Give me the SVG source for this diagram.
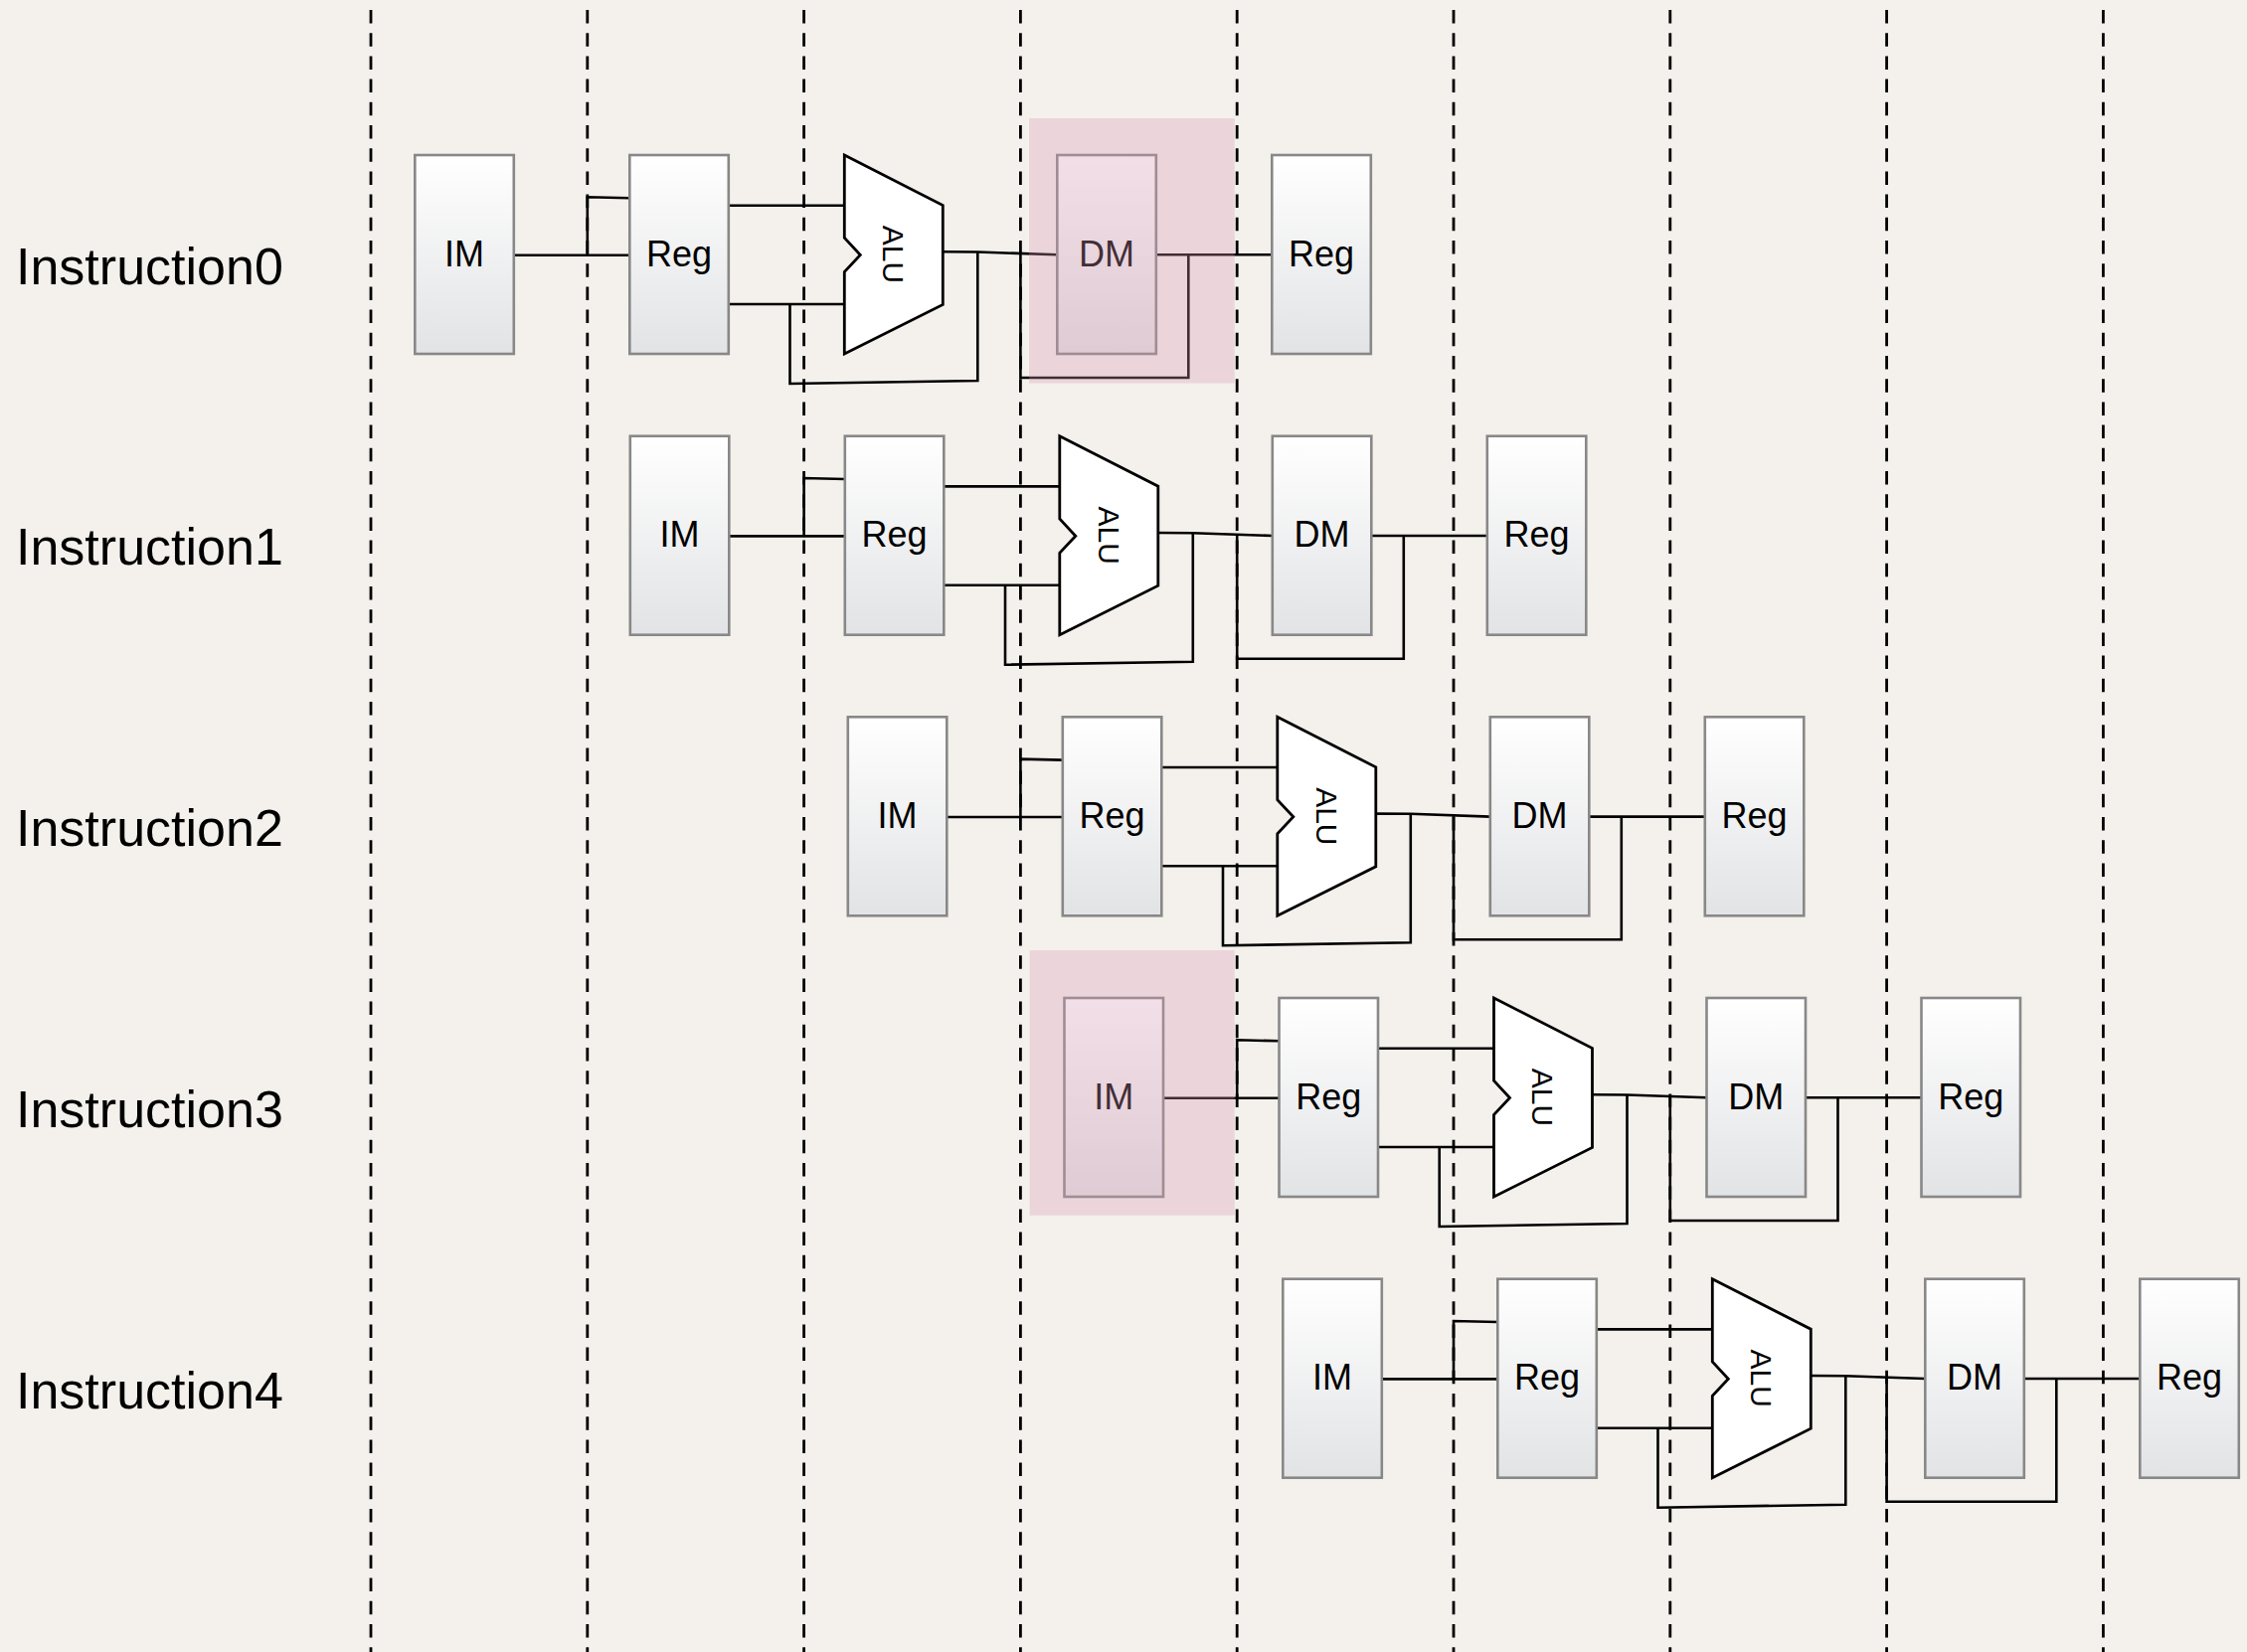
<svg xmlns="http://www.w3.org/2000/svg" width="2260" height="1662" viewBox="0 0 2260 1662">
<defs>
<linearGradient id="boxg" x1="0" y1="0" x2="0" y2="1">
<stop offset="0" stop-color="#ffffff"/>
<stop offset="1" stop-color="#e2e3e5"/>
</linearGradient>
<style>
.grid{stroke:#000;stroke-width:2.8;stroke-dasharray:13.5 9.7;fill:none}
.box{fill:url(#boxg);stroke:#888888;stroke-width:2.6}
.alu{fill:#ffffff;stroke:#000;stroke-width:2.8;stroke-linejoin:miter}
.wire{fill:none;stroke:#000;stroke-width:2.6}
.lbl{font-family:"Liberation Sans",Arial,sans-serif;font-size:36px;fill:#000;text-anchor:middle}
.alut{font-family:"Liberation Sans",Arial,sans-serif;font-size:30px;fill:#000;text-anchor:middle}
.row{font-family:"Liberation Sans",Arial,sans-serif;font-size:52px;fill:#000}
.hl{fill:#d794af;fill-opacity:0.3}
</style>
</defs>
<rect x="0" y="0" width="2260" height="1662" fill="#f4f1ec"/>
<g id="grid">
<line class="grid" x1="373" y1="10" x2="373" y2="1662"/>
<line class="grid" x1="590.8" y1="10" x2="590.8" y2="1662"/>
<line class="grid" x1="808.6" y1="10" x2="808.6" y2="1662"/>
<line class="grid" x1="1026.4" y1="10" x2="1026.4" y2="1662"/>
<line class="grid" x1="1244.2" y1="10" x2="1244.2" y2="1662"/>
<line class="grid" x1="1462" y1="10" x2="1462" y2="1662"/>
<line class="grid" x1="1679.8" y1="10" x2="1679.8" y2="1662"/>
<line class="grid" x1="1897.6" y1="10" x2="1897.6" y2="1662"/>
<line class="grid" x1="2115.4" y1="10" x2="2115.4" y2="1662"/>
</g>
<g id="row-labels">
<text class="row" x="16" y="285.7">Instruction0</text>
<text class="row" x="16" y="568.4">Instruction1</text>
<text class="row" x="16" y="851.1">Instruction2</text>
<text class="row" x="16" y="1133.8">Instruction3</text>
<text class="row" x="16" y="1416.5">Instruction4</text>
</g>
<g id="connectors">
<path class="wire" d="M516.8,256.7 H633.3"/>
<path class="wire" d="M590.8,256.7 V198.3 L633.3,199.3"/>
<path class="wire" d="M732.8,206.7 H849.3"/>
<path class="wire" d="M732.8,306 H849.3"/>
<path class="wire" d="M794.5,306 V386 L983.3,383 V253.3"/>
<path class="wire" d="M948.3,253.3 L983.3,253.5 L1063.3,256.3"/>
<path class="wire" d="M1026.4,255 V380 H1195.3 V256.3"/>
<path class="wire" d="M1162.8,256.3 H1279.3"/>

<path class="wire" d="M733.3,539.4 H849.8"/>
<path class="wire" d="M808.6,539.4 V481 L849.8,482"/>
<path class="wire" d="M949.3,489.4 H1065.8"/>
<path class="wire" d="M949.3,588.7 H1065.8"/>
<path class="wire" d="M1011,588.7 V668.7 L1199.8,665.7 V536"/>
<path class="wire" d="M1164.8,536 L1199.8,536.2 L1279.8,539"/>
<path class="wire" d="M1244.2,537.7 V662.7 H1411.8 V539"/>
<path class="wire" d="M1379.3,539 H1495.8"/>

<path class="wire" d="M952.3,822 H1068.8"/>
<path class="wire" d="M1026.4,822 V763.6 L1068.8,764.6"/>
<path class="wire" d="M1168.3,772 H1284.8"/>
<path class="wire" d="M1168.3,871.3 H1284.8"/>
<path class="wire" d="M1230,871.3 V951.3 L1418.8,948.3 V818.6"/>
<path class="wire" d="M1383.8,818.6 L1418.8,818.8 L1498.8,821.6"/>
<path class="wire" d="M1462,820.3 V945.3 H1630.8 V821.6"/>
<path class="wire" d="M1598.3,821.6 H1714.8"/>

<path class="wire" d="M1170,1104.7 H1286.5"/>
<path class="wire" d="M1244.2,1104.7 V1046.3 L1286.5,1047.3"/>
<path class="wire" d="M1386,1054.7 H1502.5"/>
<path class="wire" d="M1386,1154 H1502.5"/>
<path class="wire" d="M1447.7,1154 V1234 L1636.5,1231 V1101.3"/>
<path class="wire" d="M1601.5,1101.3 L1636.5,1101.5 L1716.5,1104.3"/>
<path class="wire" d="M1679.8,1103 V1228 H1848.5 V1104.3"/>
<path class="wire" d="M1816,1104.3 H1932.5"/>

<path class="wire" d="M1389.8,1387.4 H1506.3"/>
<path class="wire" d="M1462,1387.4 V1329 L1506.3,1330"/>
<path class="wire" d="M1605.8,1337.4 H1722.3"/>
<path class="wire" d="M1605.8,1436.7 H1722.3"/>
<path class="wire" d="M1667.5,1436.7 V1516.7 L1856.3,1513.7 V1384"/>
<path class="wire" d="M1821.3,1384 L1856.3,1384.2 L1936.3,1387"/>
<path class="wire" d="M1897.6,1385.7 V1510.7 H2068.3 V1387"/>
<path class="wire" d="M2035.8,1387 H2152.3"/>
</g>

<g id="i0-im"><rect class="box" x="417.3" y="156" width="99.5" height="200"/><text class="lbl" x="467.05" y="267.7">IM</text></g>
<g id="i0-reg"><rect class="box" x="633.3" y="156" width="99.5" height="200"/><text class="lbl" x="683.05" y="267.7">Reg</text></g>
<g id="i0-alu"><polygon class="alu" points="849.3,156 948.3,206.5 948.3,306.5 849.3,356 849.3,273.5 865.3,256.5 849.3,239.3"/><text class="alut" transform="translate(898.8,256) rotate(90)" x="0" y="10.7">ALU</text></g>
<g id="i0-dm"><rect class="box" x="1063.3" y="156" width="99.5" height="200"/><text class="lbl" x="1113.05" y="267.7">DM</text></g>
<g id="i0-reg2"><rect class="box" x="1279.3" y="156" width="99.5" height="200"/><text class="lbl" x="1329.05" y="267.7">Reg</text></g>

<g id="i1-im"><rect class="box" x="633.8" y="438.7" width="99.5" height="200"/><text class="lbl" x="683.55" y="550.4">IM</text></g>
<g id="i1-reg"><rect class="box" x="849.8" y="438.7" width="99.5" height="200"/><text class="lbl" x="899.55" y="550.4">Reg</text></g>
<g id="i1-alu"><polygon class="alu" points="1065.8,438.7 1164.8,489.2 1164.8,589.2 1065.8,638.7 1065.8,556.2 1081.8,539.2 1065.8,522"/><text class="alut" transform="translate(1115.3,538.7) rotate(90)" x="0" y="10.7">ALU</text></g>
<g id="i1-dm"><rect class="box" x="1279.8" y="438.7" width="99.5" height="200"/><text class="lbl" x="1329.55" y="550.4">DM</text></g>
<g id="i1-reg2"><rect class="box" x="1495.8" y="438.7" width="99.5" height="200"/><text class="lbl" x="1545.55" y="550.4">Reg</text></g>

<g id="i2-im"><rect class="box" x="852.8" y="721.3" width="99.5" height="200"/><text class="lbl" x="902.55" y="833">IM</text></g>
<g id="i2-reg"><rect class="box" x="1068.8" y="721.3" width="99.5" height="200"/><text class="lbl" x="1118.55" y="833">Reg</text></g>
<g id="i2-alu"><polygon class="alu" points="1284.8,721.3 1383.8,771.8 1383.8,871.8 1284.8,921.3 1284.8,838.8 1300.8,821.8 1284.8,804.6"/><text class="alut" transform="translate(1334.3,821.3) rotate(90)" x="0" y="10.7">ALU</text></g>
<g id="i2-dm"><rect class="box" x="1498.8" y="721.3" width="99.5" height="200"/><text class="lbl" x="1548.55" y="833">DM</text></g>
<g id="i2-reg2"><rect class="box" x="1714.8" y="721.3" width="99.5" height="200"/><text class="lbl" x="1764.55" y="833">Reg</text></g>

<g id="i3-im"><rect class="box" x="1070.5" y="1004" width="99.5" height="200"/><text class="lbl" x="1120.25" y="1115.7">IM</text></g>
<g id="i3-reg"><rect class="box" x="1286.5" y="1004" width="99.5" height="200"/><text class="lbl" x="1336.25" y="1115.7">Reg</text></g>
<g id="i3-alu"><polygon class="alu" points="1502.5,1004 1601.5,1054.5 1601.5,1154.5 1502.5,1204 1502.5,1121.5 1518.5,1104.5 1502.5,1087.3"/><text class="alut" transform="translate(1552,1104) rotate(90)" x="0" y="10.7">ALU</text></g>
<g id="i3-dm"><rect class="box" x="1716.5" y="1004" width="99.5" height="200"/><text class="lbl" x="1766.25" y="1115.7">DM</text></g>
<g id="i3-reg2"><rect class="box" x="1932.5" y="1004" width="99.5" height="200"/><text class="lbl" x="1982.25" y="1115.7">Reg</text></g>

<g id="i4-im"><rect class="box" x="1290.3" y="1286.7" width="99.5" height="200"/><text class="lbl" x="1340.05" y="1398.4">IM</text></g>
<g id="i4-reg"><rect class="box" x="1506.3" y="1286.7" width="99.5" height="200"/><text class="lbl" x="1556.05" y="1398.4">Reg</text></g>
<g id="i4-alu"><polygon class="alu" points="1722.3,1286.7 1821.3,1337.2 1821.3,1437.2 1722.3,1486.7 1722.3,1404.2 1738.3,1387.2 1722.3,1370"/><text class="alut" transform="translate(1771.8,1386.7) rotate(90)" x="0" y="10.7">ALU</text></g>
<g id="i4-dm"><rect class="box" x="1936.3" y="1286.7" width="99.5" height="200"/><text class="lbl" x="1986.05" y="1398.4">DM</text></g>
<g id="i4-reg2"><rect class="box" x="2152.3" y="1286.7" width="99.5" height="200"/><text class="lbl" x="2202.05" y="1398.4">Reg</text></g>

<g id="highlights">
<rect class="hl" x="1035" y="119" width="206.7" height="266.5"/>
<rect class="hl" x="1035.7" y="956" width="206" height="266.7"/>
</g>
</svg>
